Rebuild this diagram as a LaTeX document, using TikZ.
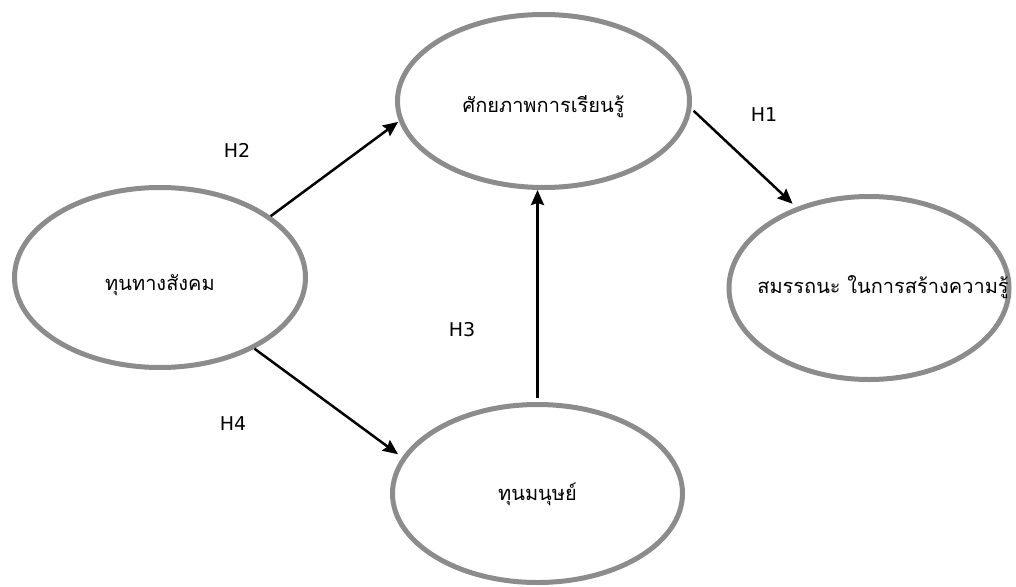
\documentclass[tikz,border=0pt]{standalone}
\usepackage{fontspec}
\setmainfont{DejaVu Sans}
\newfontfamily\thaifont[Script=Thai]{Loma}
\usetikzlibrary{shapes.geometric,arrows.meta}
\definecolor{ringgray}{RGB}{140,140,140}

\begin{document}
\begin{tikzpicture}[x=1pt,y=-1pt,
		construct/.style={ellipse,draw=ringgray,line width=5pt,inner sep=0pt,text depth=4pt,font=\thaifont\fontsize{20}{24}\selectfont},
		hyparrow/.style={-{Stealth[length=15pt,width=13pt,inset=2pt]},line width=2.5pt,black},
		hyp/.style={font=\fontsize{19}{22}\selectfont}]

		\useasboundingbox (0,0) rectangle (1016,586);

		% constructs
		\node[construct,minimum width=292pt,minimum height=173pt,text height=26pt] (learn) at (543.5,101) {ศักยภาพการเรียนรู้};
		\node[construct,minimum width=291pt,minimum height=180pt,text height=30pt] (social) at (160,277.5) {ทุนทางสังคม};
		\node[construct,minimum width=280pt,minimum height=183pt,text height=15pt] (comp) at (869,288) {\makebox[0pt]{\hspace*{28pt}สมรรถนะ ในการสร้างความรู้}};
		\node[construct,minimum width=290pt,minimum height=178pt,text height=18pt] (human) at (537.5,493.5) {ทุนมนุษย์};

		% hypotheses
		\draw[hyparrow,shorten >=1pt] (social.29) -- (learn.188);
		\draw[hyparrow,shorten <=3pt,shorten >=5pt] (learn.-3) -- (comp.132);
		\draw[hyparrow,shorten <=4pt] (human.north) -- (human.north |- learn.south);
		\draw[hyparrow,shorten >=5pt] (social.-37) -- (human.165);

		\node[hyp] (h2) at (237,150) {H2};
		\node[hyp] (h1) at (764,115) {H1};
		\node[hyp] (h3) at (462,330) {H3};
		\node[hyp] (h4) at (233,424) {H4};

	\end{tikzpicture}
\end{document}
